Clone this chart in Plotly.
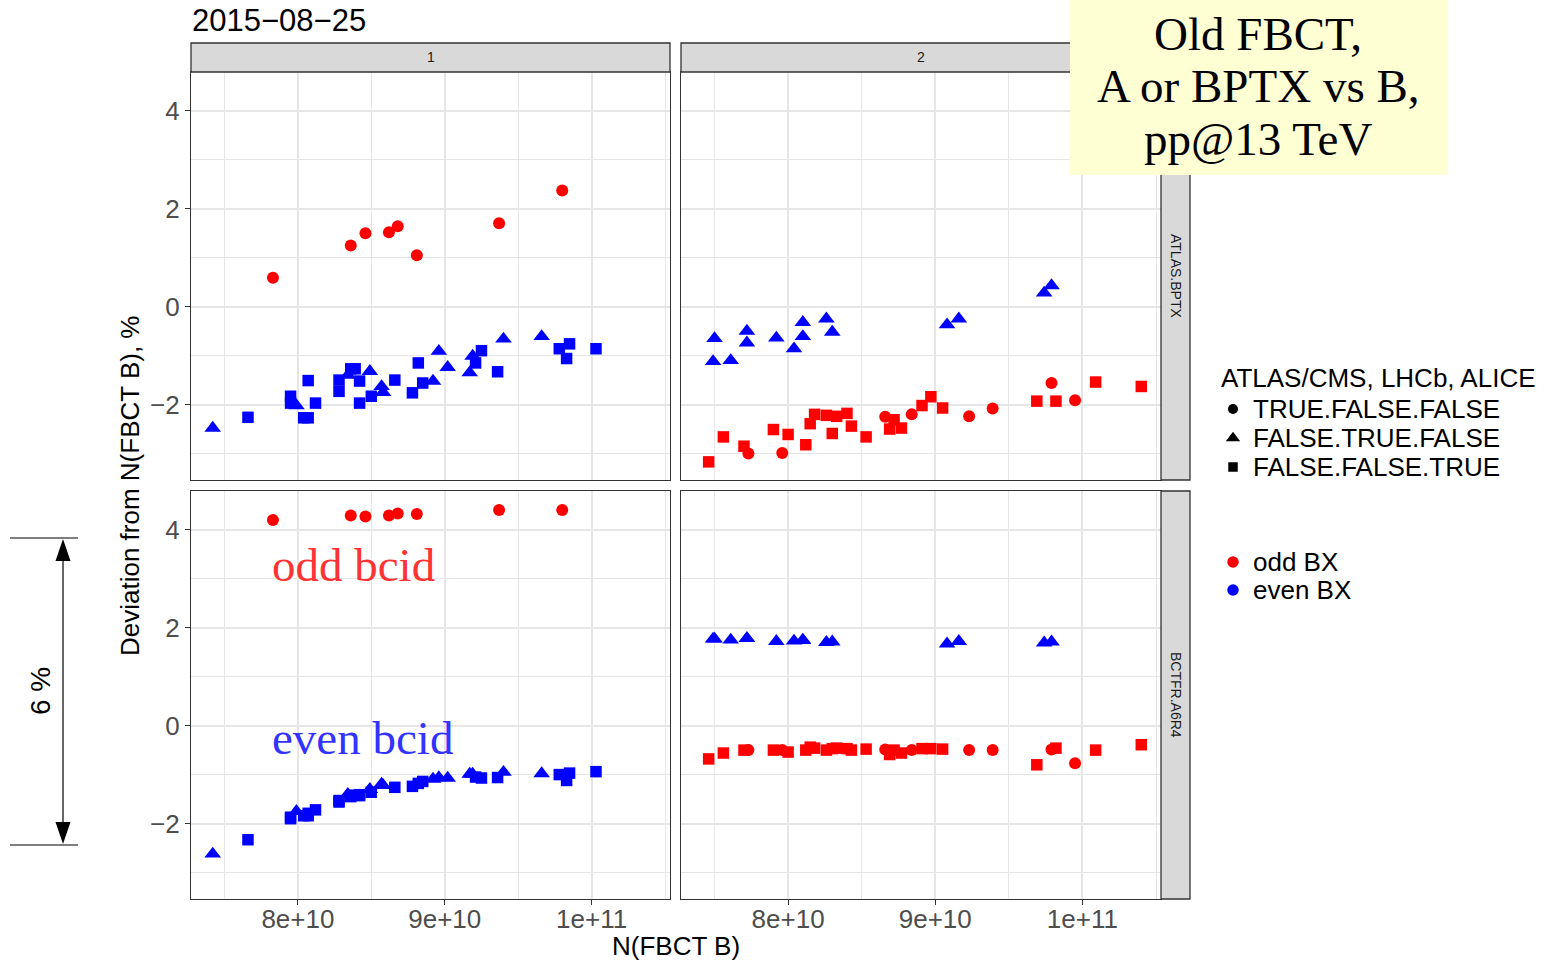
import plotly.graph_objects as go

W, H = 1548, 960

# ---------------- bunch-by-bunch data ----------------
# Fill 1
fill1_intensity = [
    7.83e10, 8.36e10, 8.46e10, 8.62e10, 8.68e10, 8.81e10, 9.37e10, 9.80e10,
    7.42e10, 7.66e10, 7.95e10, 7.95e10, 7.99e10, 8.04e10, 8.07e10, 8.07e10,
    8.12e10, 8.28e10, 8.28e10, 8.36e10, 8.39e10, 8.34e10, 8.42e10, 8.42e10,
    8.49e10, 8.50e10, 8.57e10, 8.58e10, 8.66e10, 8.78e10, 8.85e10, 8.82e10,
    8.92e10, 8.96e10, 9.02e10, 9.17e10, 9.19e10, 9.21e10, 9.25e10, 9.36e10,
    9.40e10, 9.66e10, 9.78e10, 9.85e10, 9.83e10, 1.003e11,
]
fill1_bx = ["odd"] * 8 + ["even"] * 38
fill1_experiment = (
    ["TRUE.FALSE.FALSE"] * 8
    + ["FALSE.TRUE.FALSE", "FALSE.FALSE.TRUE", "FALSE.FALSE.TRUE", "FALSE.FALSE.TRUE",
       "FALSE.TRUE.FALSE", "FALSE.FALSE.TRUE", "FALSE.FALSE.TRUE", "FALSE.FALSE.TRUE",
       "FALSE.FALSE.TRUE", "FALSE.FALSE.TRUE", "FALSE.FALSE.TRUE", "FALSE.FALSE.TRUE",
       "FALSE.FALSE.TRUE", "FALSE.TRUE.FALSE", "FALSE.FALSE.TRUE", "FALSE.FALSE.TRUE",
       "FALSE.TRUE.FALSE", "FALSE.FALSE.TRUE", "FALSE.TRUE.FALSE", "FALSE.TRUE.FALSE",
       "FALSE.FALSE.TRUE", "FALSE.FALSE.TRUE", "FALSE.FALSE.TRUE", "FALSE.FALSE.TRUE",
       "FALSE.TRUE.FALSE", "FALSE.TRUE.FALSE", "FALSE.TRUE.FALSE", "FALSE.TRUE.FALSE",
       "FALSE.TRUE.FALSE", "FALSE.FALSE.TRUE", "FALSE.FALSE.TRUE", "FALSE.FALSE.TRUE",
       "FALSE.TRUE.FALSE", "FALSE.TRUE.FALSE", "FALSE.FALSE.TRUE", "FALSE.FALSE.TRUE",
       "FALSE.FALSE.TRUE", "FALSE.FALSE.TRUE"]
)
fill1_dev_atlas_bptx = [
    0.59, 1.25, 1.50, 1.52, 1.64, 1.05, 1.70, 2.37,
    -2.48, -2.26, -1.83, -1.97, -2.02, -2.27, -2.27, -1.51,
    -1.97, -1.50, -1.73, -1.27, -1.27, -1.40, -1.52, -1.97,
    -1.32, -1.83, -1.63, -1.75, -1.50, -1.76, -1.56, -1.15,
    -1.52, -0.91, -1.24, -1.35, -1.01, -1.15, -0.90, -1.33,
    -0.66, -0.61, -0.86, -0.76, -1.06, -0.86,
]
fill1_dev_bctfr = [
    4.20, 4.29, 4.27, 4.29, 4.33, 4.32, 4.40, 4.40,
    -2.62, -2.33, -1.87, -1.90, -1.75, -1.84, -1.84, -1.79,
    -1.72, -1.56, -1.53, -1.45, -1.42, -1.40, -1.43, -1.41,
    -1.30, -1.36, -1.19, -1.22, -1.26, -1.24, -1.14, -1.18,
    -1.09, -1.06, -1.07, -0.99, -0.99, -1.05, -1.07, -1.06,
    -0.95, -0.98, -1.00, -0.97, -1.12, -0.94,
]

# Fill 2
fill2_intensity = [
    7.50e10, 7.49e10, 7.61e10, 7.72e10, 7.72e10, 7.92e10, 8.04e10, 8.10e10,
    8.10e10, 8.26e10, 8.30e10, 9.08e10, 9.16e10, 9.74e10, 9.79e10,
    7.73e10, 7.96e10, 8.66e10, 8.84e10, 9.23e10, 9.39e10, 9.79e10, 9.95e10,
    7.46e10, 7.56e10, 7.70e10, 7.90e10, 8.00e10, 8.12e10, 8.15e10, 8.18e10,
    8.26e10, 8.30e10, 8.33e10, 8.40e10, 8.43e10, 8.53e10, 8.69e10, 8.72e10,
    8.77e10, 8.91e10, 8.97e10, 9.05e10, 9.69e10, 9.82e10, 1.009e11, 1.040e11,
]
fill2_bx = ["even"] * 15 + ["odd"] * 32
fill2_experiment = (
    ["FALSE.TRUE.FALSE"] * 15 + ["TRUE.FALSE.FALSE"] * 8 + ["FALSE.FALSE.TRUE"] * 24
)
fill2_dev_atlas_bptx = [
    -0.65, -1.12, -1.10, -0.50, -0.74, -0.64, -0.86, -0.32,
    -0.61, -0.25, -0.52, -0.37, -0.25, 0.28, 0.43,
    -3.00, -2.99, -2.25, -2.20, -2.24, -2.08, -1.56, -1.91,
    -3.17, -2.66, -2.85, -2.51, -2.61, -2.82, -2.39, -2.20,
    -2.22, -2.59, -2.24, -2.18, -2.44, -2.66, -2.50, -2.31,
    -2.48, -2.02, -1.84, -2.07, -1.93, -1.93, -1.54, -1.63,
]
fill2_dev_bctfr = [
    1.77, 1.77, 1.75, 1.78, 1.78, 1.72, 1.73, 1.75,
    1.74, 1.70, 1.71, 1.67, 1.72, 1.69, 1.71,
    -0.50, -0.50, -0.49, -0.50, -0.50, -0.50, -0.49, -0.77,
    -0.68, -0.56, -0.50, -0.50, -0.54, -0.50, -0.44, -0.46,
    -0.50, -0.47, -0.46, -0.47, -0.50, -0.48, -0.59, -0.50,
    -0.56, -0.47, -0.47, -0.48, -0.80, -0.46, -0.50, -0.39,
]

# ---------------- facet / legend labels ----------------
fill_labels = ["1", "2"]
detector_labels = ["ATLAS.BPTX", "BCTFR.A6R4"]
experiment_levels = ["TRUE.FALSE.FALSE", "FALSE.TRUE.FALSE", "FALSE.FALSE.TRUE"]
bx_levels = ["odd", "even"]
bx_legend_labels = ["odd BX", "even BX"]
experiment_legend_title = "ATLAS/CMS, LHCb, ALICE"

x_tick_values = [8e10, 9e10, 1e11]
x_tick_labels = ["8e+10", "9e+10", "1e+11"]
x_minor_values = [7.5e10, 8.5e10, 9.5e10, 1.05e11]
y_tick_values = [-2, 0, 2, 4]
y_minor_values = [-3, -1, 1, 3]

# ---------------- styling ----------------
SANS = "Liberation Sans, Arial, Helvetica, sans-serif"
SERIF = "Liberation Serif, Times New Roman, serif"
BX_COLORS = {"odd": "#FF0000", "even": "#0000FF"}
SYMBOLS = {"TRUE.FALSE.FALSE": "circle", "FALSE.TRUE.FALSE": "triangle-up",
           "FALSE.FALSE.TRUE": "square"}
SIZES = {"TRUE.FALSE.FALSE": 12, "FALSE.TRUE.FALSE": 14.5, "FALSE.FALSE.TRUE": 11.5}
GRID = "#E6E6E6"
FRAME = "#333333"

X_RANGE = [7.272e10, 1.0534e11]
Y_RANGE = [-3.54, 4.79]


def fx(px):
    return px / W


def fy(py):
    return 1 - py / H


col_domains = [[fx(191), fx(670)], [fx(681), fx(1161)]]
row_domains = [[fy(480), fy(72)], [fy(899), fy(491)]]

fills = [
    dict(x=fill1_intensity, bx=fill1_bx, exp=fill1_experiment,
         dev={"ATLAS.BPTX": fill1_dev_atlas_bptx, "BCTFR.A6R4": fill1_dev_bctfr}),
    dict(x=fill2_intensity, bx=fill2_bx, exp=fill2_experiment,
         dev={"ATLAS.BPTX": fill2_dev_atlas_bptx, "BCTFR.A6R4": fill2_dev_bctfr}),
]

fig = go.Figure()
layout_axes = {}

for r, det in enumerate(detector_labels):
    for c, fill in enumerate(fills):
        k = r * 2 + c + 1
        sfx = "" if k == 1 else str(k)
        for bx in bx_levels:
            for exp in experiment_levels:
                idx = [i for i in range(len(fill["x"]))
                       if fill["bx"][i] == bx and fill["exp"][i] == exp]
                if not idx:
                    continue
                fig.add_trace(go.Scatter(
                    x=[fill["x"][i] for i in idx],
                    y=[fill["dev"][det][i] for i in idx],
                    mode="markers",
                    marker=dict(symbol=SYMBOLS[exp], size=SIZES[exp],
                                color=BX_COLORS[bx], line=dict(width=0)),
                    xaxis="x" + sfx, yaxis="y" + sfx,
                    showlegend=False, hoverinfo="skip", cliponaxis=True,
                ))
        bottom = r == 1
        left = c == 0
        layout_axes["xaxis" + sfx] = dict(
            domain=col_domains[c], anchor="y" + sfx, range=X_RANGE,
            tickmode="array", tickvals=x_tick_values, ticktext=x_tick_labels,
            showticklabels=bottom, ticks="outside" if bottom else "",
            ticklen=5, tickwidth=1.2, tickcolor=FRAME, ticklabelstandoff=-8,
            tickfont=dict(family=SANS, size=26, color="#4D4D4D"),
            showgrid=True, gridcolor=GRID, gridwidth=1.5,
            minor=dict(tickvals=x_minor_values, showgrid=True, gridcolor=GRID, gridwidth=0.8),
            zeroline=False, showline=True, mirror=True, linecolor=FRAME, linewidth=1.3,
            fixedrange=True,
        )
        layout_axes["yaxis" + sfx] = dict(
            domain=row_domains[r], anchor="x" + sfx, range=Y_RANGE,
            tickmode="array", tickvals=y_tick_values,
            showticklabels=left, ticks="outside" if left else "",
            ticklen=5, tickwidth=1.2, tickcolor=FRAME,
            tickfont=dict(family=SANS, size=26, color="#4D4D4D"),
            showgrid=True, gridcolor=GRID, gridwidth=1.5,
            minor=dict(tickvals=y_minor_values, showgrid=True, gridcolor=GRID, gridwidth=0.8),
            zeroline=False, showline=True, mirror=True, linecolor=FRAME, linewidth=1.3,
            fixedrange=True,
        )

# legend keys live on a full-figure helper axis measured in pixels
legend_key_x = 1233
exp_key_rows = [409, 438, 467]
bx_key_rows = [562, 590]
LEGEND_KEY_SIZES = {"TRUE.FALSE.FALSE": 10, "FALSE.TRUE.FALSE": 12.5, "FALSE.FALSE.TRUE": 9.5}
for exp, yk in zip(experiment_levels, exp_key_rows):
    fig.add_trace(go.Scatter(
        x=[legend_key_x], y=[yk], mode="markers",
        marker=dict(symbol=SYMBOLS[exp], size=LEGEND_KEY_SIZES[exp], color="black", line=dict(width=0)),
        xaxis="x5", yaxis="y5", showlegend=False, hoverinfo="skip", cliponaxis=False,
    ))
for bx, yk in zip(bx_levels, bx_key_rows):
    fig.add_trace(go.Scatter(
        x=[legend_key_x], y=[yk], mode="markers",
        marker=dict(symbol="circle", size=11.5, color=BX_COLORS[bx], line=dict(width=0)),
        xaxis="x5", yaxis="y5", showlegend=False, hoverinfo="skip", cliponaxis=False,
    ))
layout_axes["xaxis5"] = dict(domain=[0, 1], range=[0, W], visible=False, fixedrange=True, anchor="y5")
layout_axes["yaxis5"] = dict(domain=[0, 1], range=[H, 0], visible=False, fixedrange=True, anchor="x5")

shapes = []
annotations = []


def rect(x0, y0, x1, y1, fill, line_color=None, lw=0):
    shapes.append(dict(type="rect", xref="paper", yref="paper",
                       x0=fx(x0), x1=fx(x1), y0=fy(y1), y1=fy(y0),
                       fillcolor=fill, line=dict(color=line_color or fill, width=lw),
                       layer="above"))


def text(x, y, s, size, color="black", family=SANS, xanchor="center", angle=0):
    annotations.append(dict(x=fx(x), y=fy(y), xref="paper", yref="paper", text=s,
                            showarrow=False, xanchor=xanchor, yanchor="middle",
                            textangle=angle, font=dict(family=family, size=size, color=color)))


# facet strips
STRIP = "#D9D9D9"
rect(191, 43, 670, 72, STRIP, FRAME, 1.3)
rect(681, 43, 1161, 72, STRIP, FRAME, 1.3)
rect(1161, 72, 1190, 480, STRIP, FRAME, 1.3)
rect(1161, 491, 1190, 899, STRIP, FRAME, 1.3)
text(431, 57, fill_labels[0], 14, "#1A1A1A")
text(921, 57, fill_labels[1], 14, "#1A1A1A")
text(1176, 276, detector_labels[0], 14, "#1A1A1A", angle=90)
text(1176, 695, detector_labels[1], 14, "#1A1A1A", angle=90)

# title and axis titles
text(190, 20, "2015\u221208\u221225", 31, xanchor="left")
text(130, 486, "Deviation from N(FBCT B), %", 26, angle=-90)
text(676, 946, "N(FBCT B)", 26)

# note box
rect(1070, 0, 1448, 175, "#FFFFD4")
text(1258, 34, "Old FBCT,", 47, family=SERIF)
text(1258, 86, "A or BPTX vs B,", 47, family=SERIF)
text(1258, 139, "pp@13 TeV", 47, family=SERIF)

# in-panel labels
text(270, 565, "odd bcid", 47, "#FF3333", SERIF, xanchor="left")
text(270, 738, "even bcid", 47, "#3333FF", SERIF, xanchor="left")

# legend text
text(1219, 378, experiment_legend_title, 26, xanchor="left")
for lab, yk in zip(experiment_levels, exp_key_rows):
    text(1251, yk, lab, 26, xanchor="left")
for lab, yk in zip(bx_legend_labels, bx_key_rows):
    text(1251, yk, lab, 26, xanchor="left")

# 6 % span marker
line_style = dict(color="black", width=1.2)
for yy in (538, 845):
    shapes.append(dict(type="line", xref="paper", yref="paper",
                       x0=fx(10), x1=fx(78), y0=fy(yy), y1=fy(yy), line=line_style))
shapes.append(dict(type="line", xref="paper", yref="paper",
                   x0=fx(63), x1=fx(63), y0=fy(556), y1=fy(827), line=line_style))


def tri(ax, ay, by, half):
    return (f"M {fx(ax)},{fy(ay)} L {fx(ax - half)},{fy(by)} "
            f"L {fx(ax + half)},{fy(by)} Z")


shapes.append(dict(type="path", xref="paper", yref="paper", path=tri(63, 539, 561, 7.5),
                   fillcolor="black", line=dict(width=0)))
shapes.append(dict(type="path", xref="paper", yref="paper", path=tri(63, 844, 822, 7.5),
                   fillcolor="black", line=dict(width=0)))
text(40, 691, "6 %", 28, angle=-90)

fig.update_layout(
    width=W, height=H,
    margin=dict(l=0, r=0, t=0, b=0),
    paper_bgcolor="white", plot_bgcolor="rgba(0,0,0,0)",
    showlegend=False,
    shapes=shapes, annotations=annotations,
    **layout_axes,
)

fig.write_html("out.html")
